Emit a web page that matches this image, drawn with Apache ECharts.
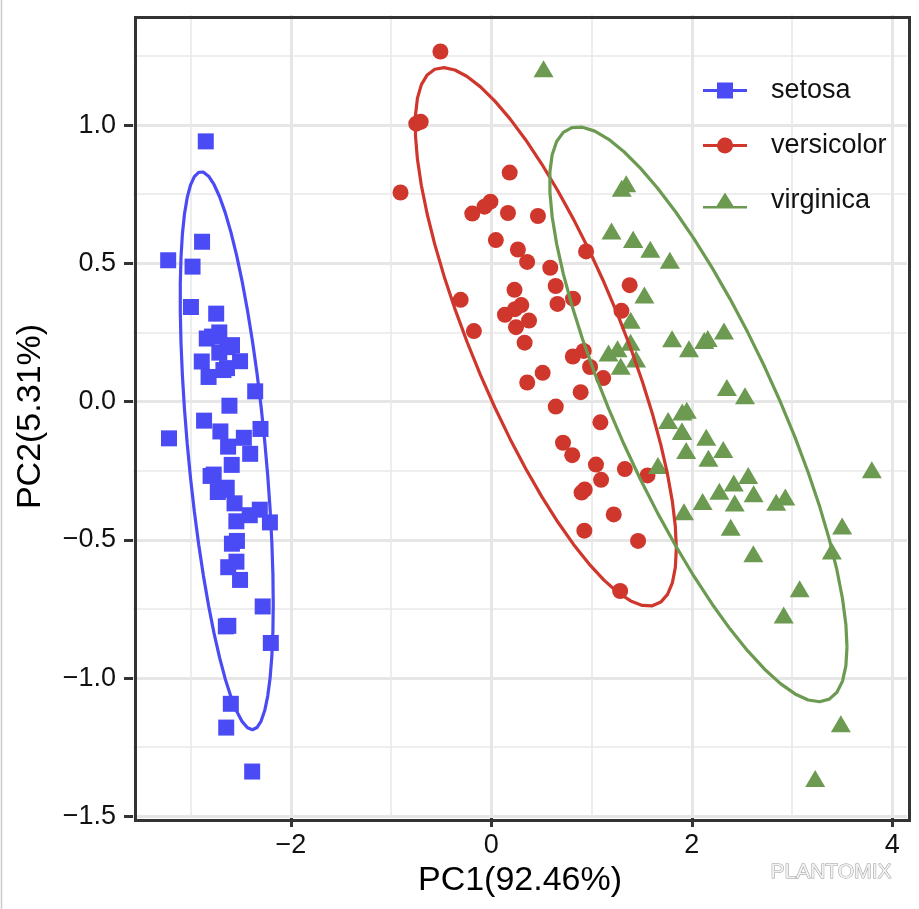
<!DOCTYPE html>
<html>
<head>
<meta charset="utf-8">
<script src="https://cdn.jsdelivr.net/npm/echarts@6/dist/echarts.min.js"></script>
<style>
html,body{margin:0;padding:0;background:#fff;}
#chart{width:919px;height:909px;}
</style>
</head>
<body>
<div id="chart"></div>
<script>
// ---- data (PC1, PC2 scores) ----
const species = ['setosa', 'versicolor', 'virginica'];
const colors = ['#4B4BF5', '#CF362C', '#6B9A50'];
const xTicks = [-2, 0, 2, 4];
const yTicks = [-1.5, -1.0, -0.5, 0.0, 0.5, 1.0];
const xTitle = 'PC1(92.46%)';
const yTitle = 'PC2(5.31%)';

const setosaPC1 = [-2.684,-2.714,-2.889,-2.745,-2.729,-2.281,-2.821,-2.626,-2.886,-2.673,-2.507,-2.613,-2.786,-3.224,-2.645,-2.386,-2.624,-2.648,-2.200,-2.588,-2.310,-2.544,-3.216,-2.303,-2.356,-2.507,-2.469,-2.562,-2.640,-2.632,-2.587,-2.410,-2.649,-2.599,-2.637,-2.866,-2.625,-2.801,-2.981,-2.590,-2.770,-2.849,-2.997,-2.406,-2.209,-2.714,-2.538,-2.839,-2.543,-2.703];
const setosaPC2 = [-0.319,0.177,0.145,0.318,-0.327,-0.741,0.089,-0.163,0.578,0.114,-0.645,-0.015,0.235,0.511,-1.179,-1.338,-0.811,-0.312,-0.873,-0.514,-0.391,-0.433,-0.133,-0.099,0.037,0.146,-0.131,-0.368,-0.312,0.197,0.204,-0.411,-0.813,-1.093,0.121,-0.069,-0.599,-0.269,0.488,-0.229,-0.264,0.941,0.342,-0.189,-0.437,0.250,-0.504,0.228,-0.579,-0.108];
const versicolorPC1 = [1.285,0.932,1.464,0.183,1.088,0.642,1.095,-0.749,1.044,-0.009,-0.508,0.512,0.265,0.985,-0.174,0.928,0.660,0.236,0.945,0.045,1.116,0.358,1.298,0.922,0.715,0.900,1.332,1.558,0.813,-0.306,-0.068,-0.190,0.136,1.380,0.588,0.807,1.221,0.815,0.246,0.166,0.465,0.891,0.231,-0.705,0.357,0.332,0.376,0.643,-0.906,0.299];
const versicolorPC2 = [-0.685,-0.318,-0.504,0.828,-0.075,0.418,-0.283,1.005,-0.228,0.723,1.266,0.104,0.550,0.125,0.255,-0.467,0.353,0.334,0.543,0.584,0.085,0.069,0.328,0.183,-0.149,-0.329,-0.244,-0.267,0.163,0.368,0.705,0.680,0.314,0.421,0.484,-0.194,-0.408,0.372,0.269,0.682,0.671,0.034,0.404,1.012,0.505,0.213,0.293,-0.018,0.756,0.349];
const virginicaPC1 = [2.531,1.415,2.617,1.972,2.350,3.397,0.521,2.933,2.321,2.917,1.662,1.803,2.166,1.346,1.586,1.904,1.950,3.487,3.796,1.301,2.428,1.199,3.500,1.389,2.275,2.614,1.259,1.291,2.124,2.388,2.842,3.231,2.159,1.444,1.781,3.076,2.144,1.905,1.169,2.108,2.314,1.922,1.415,2.563,2.419,1.944,1.527,1.764,1.901,1.390];
const virginicaPC2 = [0.010,0.575,-0.344,0.180,0.040,-0.551,1.193,-0.356,0.244,-0.783,-0.242,0.216,-0.216,0.777,0.540,-0.119,-0.042,-1.176,-0.257,0.761,-0.378,0.606,-0.461,0.204,-0.335,-0.561,0.180,0.117,0.210,-0.465,-0.375,-1.374,0.217,0.143,0.500,-0.688,-0.140,-0.049,0.165,-0.372,-0.184,-0.409,0.575,-0.278,-0.305,-0.188,0.375,-0.079,-0.117,0.283];

const groupsX = [setosaPC1, versicolorPC1, virginicaPC1];
const groupsY = [setosaPC2, versicolorPC2, virginicaPC2];

// ---- 95% t-ellipse (robust cov.trob, as in ggplot2 stat_ellipse) ----
function covTrob(px, py) {
  const n = px.length, p = 2, nu = 5;
  let w = new Array(n).fill(1);
  let loc = [px.reduce((a,b)=>a+b,0)/n, py.reduce((a,b)=>a+b,0)/n];
  let X = [];
  for (let it = 0; it < 25; it++) {
    const w0 = w.slice();
    X = px.map((v,i)=>[v-loc[0], py[i]-loc[1]]);
    const sw = w.reduce((a,b)=>a+b,0);
    let a=0,b=0,c=0;
    for (let i=0;i<n;i++){ a+=w[i]*X[i][0]*X[i][0]/sw; b+=w[i]*X[i][0]*X[i][1]/sw; c+=w[i]*X[i][1]*X[i][1]/sw; }
    const det = a*c-b*b;
    const i0=c/det, i1=-b/det, i2=a/det;
    w = X.map(q => (nu+p)/(nu + q[0]*q[0]*i0 + 2*q[0]*q[1]*i1 + q[1]*q[1]*i2));
    const sw2 = w.reduce((s,v)=>s+v,0);
    loc = [0,0];
    for (let i=0;i<n;i++){ loc[0]+=w[i]*px[i]/sw2; loc[1]+=w[i]*py[i]/sw2; }
    let done = true;
    for (let i=0;i<n;i++) if (Math.abs(w[i]-w0[i]) >= 0.01) { done=false; break; }
    if (done) break;
  }
  let a=0,b=0,c=0;
  for (let i=0;i<n;i++){ a+=w[i]*X[i][0]*X[i][0]/n; b+=w[i]*X[i][0]*X[i][1]/n; c+=w[i]*X[i][1]*X[i][1]/n; }
  return {center: loc, cov: [a,b,c]};
}
function ellipsePoints(px, py, level) {
  const n = px.length, d = n - 1;
  const f = d/2*(Math.pow(1-level, -2/d) - 1);   // qf(level, 2, n-1)
  const radius = Math.sqrt(2*f);
  const t = covTrob(px, py);
  const r11 = Math.sqrt(t.cov[0]), r12 = t.cov[1]/r11, r22 = Math.sqrt(t.cov[2]-r12*r12);
  const seg = 51, out = [];
  for (let k=0;k<=seg;k++){
    const ang = k*2*Math.PI/seg, cs = Math.cos(ang), sn = Math.sin(ang);
    out.push([t.center[0] + radius*cs*r11, t.center[1] + radius*(cs*r12 + sn*r22)]);
  }
  return out;
}
const ellipses = groupsX.map((gx,i)=>ellipsePoints(gx, groupsY[i], 0.95));

// ---- scale limits with ggplot's 5% expansion ----
let allX = [], allY = [];
groupsX.forEach((g,i)=>{ allX = allX.concat(g); allY = allY.concat(groupsY[i]); });
ellipses.forEach(e=>e.forEach(p=>{ allX.push(p[0]); allY.push(p[1]); }));
const xr = [Math.min(...allX), Math.max(...allX)], yr = [Math.min(...allY), Math.max(...allY)];
const xLim = [xr[0]-0.05*(xr[1]-xr[0]), xr[1]+0.05*(xr[1]-xr[0])];
const yLim = [yr[0]-0.05*(yr[1]-yr[0]), yr[1]+0.05*(yr[1]-yr[0])];

const FONT = 'Liberation Sans, Arial, sans-serif';
const fmtMinus = s => String(s).replace('-', '\u2212');

const symbols = ['rect', 'circle', 'triangle'];
const symSizes = [16, 16, [20, 17]];
const symOffsets = [[0,0],[0,0],[0,-3]];
const legendIcons = [
  'path://M0,6.5H14V0H30V6.5H44V9.5H30V16H14V9.5H0Z',
  'path://M0,6.5H14.142A8,8 0 0 1 29.858,6.5H44V9.5H29.858A8,8 0 0 1 14.142,9.5H0Z',
  'path://M0,13.5H13.56L22,0L30.44,13.5H44V16H0Z'
];

const series = [];
species.forEach((s,i)=>{
  series.push({
    name: s, type: 'scatter',
    data: groupsX[i].map((v,j)=>[v, groupsY[i][j]]),
    symbol: symbols[i], symbolSize: symSizes[i], symbolOffset: symOffsets[i],
    itemStyle: {color: colors[i], opacity: 1},
    emphasis: {disabled: true}, z: 2
  });
});
species.forEach((s,i)=>{
  series.push({
    name: s, type: 'line', data: ellipses[i], showSymbol: false, symbol: 'none',
    lineStyle: {color: colors[i], width: 3.2}, itemStyle: {color: colors[i]},
    smooth: false, emphasis: {disabled: true}, z: 3, animation: false
  });
});

const chart = echarts.init(document.getElementById('chart'), null, {renderer: 'canvas'});
chart.setOption({
  animation: false,
  backgroundColor: '#ffffff',
  grid: {left: 133, right: 12, top: 15, bottom: 91, show: false},
  legend: {
    orient: 'vertical', left: 703, top: 75, padding: 0,
    itemWidth: 44, itemHeight: 16, itemGap: 24,
    selectedMode: false,
    textStyle: {fontFamily: FONT, fontSize: 27, color: '#111', padding: [0,0,0,19], lineHeight: 31},
    data: species.map((s,i)=>({name: s, icon: legendIcons[i], itemStyle: {color: colors[i]}}))
  },
  xAxis: {
    type: 'value', min: xLim[0], max: xLim[1], minInterval: 2, maxInterval: 2,
    name: xTitle, nameLocation: 'middle', nameGap: 44,
    nameTextStyle: {fontFamily: FONT, fontSize: 34, color: '#000', lineHeight: 34},
    axisLine: {show: false, onZero: false},
    axisTick: {show: true, length: 9, lineStyle: {color: '#333', width: 3}, customValues: xTicks},
    axisLabel: {fontFamily: FONT, fontSize: 27, color: '#111', margin: 14, customValues: xTicks,
      formatter: v => fmtMinus(v)},
    splitLine: {show: true, lineStyle: {color: '#E6E6E6', width: 3}},
    minorTick: {show: false, splitNumber: 2},
    minorSplitLine: {show: true, lineStyle: {color: '#E9E9E9', width: 1.6}}
  },
  yAxis: {
    type: 'value', min: yLim[0], max: yLim[1], minInterval: 0.5, maxInterval: 0.5,
    name: yTitle, nameLocation: 'middle', nameGap: 85,
    nameTextStyle: {fontFamily: FONT, fontSize: 34, color: '#000', lineHeight: 34},
    axisLine: {show: false, onZero: false},
    axisTick: {show: true, length: 9, lineStyle: {color: '#333', width: 3}, customValues: yTicks},
    axisLabel: {fontFamily: FONT, fontSize: 27, color: '#111', margin: 17, customValues: yTicks,
      formatter: v => fmtMinus(Number(v).toFixed(1))},
    splitLine: {show: true, lineStyle: {color: '#E6E6E6', width: 3}},
    minorTick: {show: false, splitNumber: 2},
    minorSplitLine: {show: true, lineStyle: {color: '#E9E9E9', width: 1.6}}
  },
  graphic: [
    {type: 'rect', left: 133, top: 15, z: 100, silent: true,
     shape: {width: 774, height: 803},
     style: {fill: 'none', stroke: '#333333', lineWidth: 3}},
    {type: 'line', silent: true, z: 100,
     shape: {x1: 1.5, y1: 0, x2: 1.5, y2: 909}, style: {stroke: '#cccccc', lineWidth: 1.5}},
    {type: 'text', left: 770, top: 861, silent: true, z: 100,
     style: {text: 'PLANTOMIX', fontFamily: FONT, fontSize: 21, fill: '#f2f2f2', stroke: '#999999', lineWidth: 1}}
  ],
  series: series
});
</script>
</body>
</html>
